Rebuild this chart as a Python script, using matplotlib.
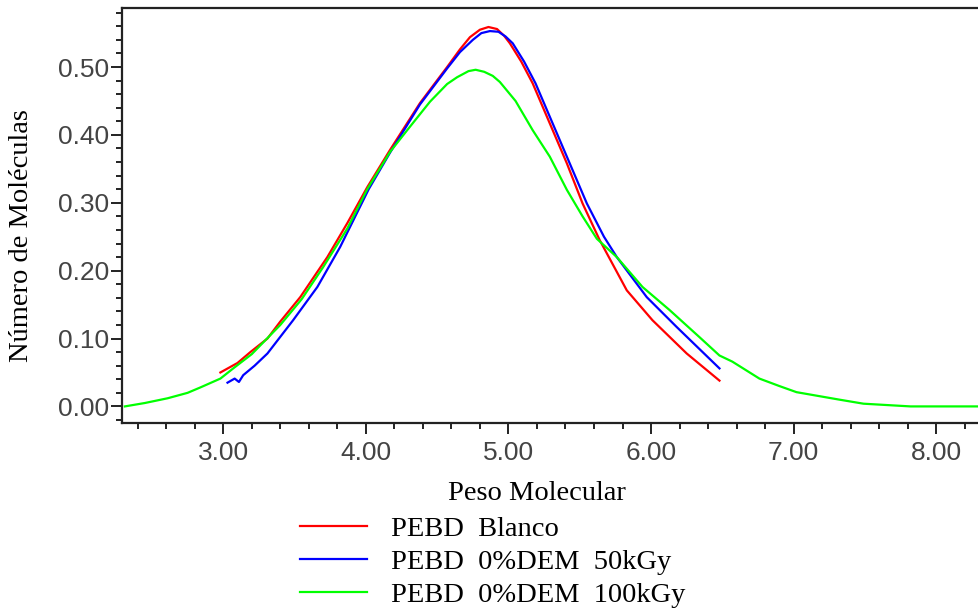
"""
Distribucion de peso molecular - PEBD
"""

import matplotlib

matplotlib.use("Agg")
import matplotlib.pyplot as plt
from matplotlib.ticker import FormatStrFormatter, MultipleLocator

# PEBD Blanco
blanco_x = [2.98, 3.10, 3.19, 3.31, 3.40, 3.54, 3.73, 3.87, 4.01, 4.17, 4.38,
            4.57, 4.66, 4.73, 4.80, 4.86, 4.92, 4.97, 5.01, 5.09, 5.17, 5.29,
            5.41, 5.52, 5.64, 5.83, 6.01, 6.25, 6.48]
blanco_y = [0.050, 0.064, 0.080, 0.100, 0.125, 0.161, 0.220, 0.270, 0.323, 0.378,
            0.447, 0.500, 0.526, 0.544, 0.555, 0.559, 0.556, 0.546, 0.535, 0.508,
            0.476, 0.417, 0.358, 0.299, 0.245, 0.171, 0.127, 0.078, 0.038]

# PEBD 0%DEM 50kGy
dem50_x = [3.03, 3.08, 3.11, 3.14, 3.22, 3.31, 3.49, 3.66, 3.82, 4.02, 4.17,
           4.38, 4.57, 4.66, 4.75, 4.81, 4.87, 4.93, 4.98, 5.03, 5.11, 5.19,
           5.31, 5.43, 5.55, 5.67, 5.76, 5.97, 6.18, 6.48]
dem50_y = [0.035, 0.041, 0.036, 0.046, 0.060, 0.078, 0.127, 0.176, 0.235, 0.320,
           0.374, 0.445, 0.498, 0.522, 0.540, 0.550, 0.553, 0.552, 0.545, 0.535,
           0.508, 0.476, 0.417, 0.358, 0.299, 0.250, 0.220, 0.161, 0.117, 0.056]

# PEBD 0%DEM 100kGy
dem100_x = [2.31, 2.45, 2.61, 2.75, 2.84, 2.98, 3.07, 3.20, 3.40, 3.55, 3.70,
            3.87, 4.01, 4.17, 4.29, 4.45, 4.57, 4.64, 4.72, 4.77, 4.83, 4.89,
            4.94, 5.05, 5.17, 5.29, 5.41, 5.52, 5.62, 5.76, 5.94, 6.13, 6.34,
            6.48, 6.57, 6.76, 6.90, 7.02, 7.32, 7.49, 7.82, 8.30]
dem100_y = [0.000, 0.005, 0.012, 0.020, 0.028, 0.041, 0.056, 0.077, 0.120, 0.158,
            0.205, 0.262, 0.320, 0.375, 0.407, 0.449, 0.475, 0.485, 0.494, 0.496,
            0.493, 0.487, 0.478, 0.450, 0.407, 0.368, 0.319, 0.280, 0.247, 0.220,
            0.176, 0.142, 0.102, 0.075, 0.066, 0.041, 0.030, 0.021, 0.010, 0.004,
            0.000, 0.000]

labels = ["PEBD  Blanco", "PEBD  0%DEM  50kGy", "PEBD  0%DEM  100kGy"]
colors = ["#ff0000", "#0000ff", "#00ff00"]

W, H = 979, 616
fig = plt.figure(figsize=(W / 100, H / 100), dpi=100)
ax = fig.add_axes([122 / W, 1 - 422.7 / H, (W - 122) / W, (422.7 - 8) / H])

series = [(blanco_x, blanco_y), (dem50_x, dem50_y), (dem100_x, dem100_y)]
handles = []
for (xs, ys), lab, col in zip(series, labels, colors):
    (ln,) = ax.plot(xs, ys, color=col, linewidth=1.6, label=lab)
    handles.append(ln)

ax.set_xlim(2.29, 8.30)
ax.set_ylim(-0.024, 0.587)

ax.spines["right"].set_visible(False)
for side in ["left", "bottom", "top"]:
    ax.spines[side].set_linewidth(1.6)
    ax.spines[side].set_color("#222222")

ax.xaxis.set_major_locator(MultipleLocator(1.0))
ax.xaxis.set_minor_locator(MultipleLocator(0.2))
ax.yaxis.set_major_locator(MultipleLocator(0.1))
ax.yaxis.set_minor_locator(MultipleLocator(0.02))
ax.xaxis.set_major_formatter(FormatStrFormatter("%.2f"))
ax.yaxis.set_major_formatter(FormatStrFormatter("%.2f"))

ax.tick_params(axis="both", which="major", direction="out", length=8, width=1.4,
               color="#222222", labelcolor="#444444", labelsize=19)
ax.tick_params(axis="both", which="minor", direction="out", length=4.5, width=1.4,
               color="#222222")
ax.tick_params(axis="y", which="major", pad=1.5)
ax.tick_params(axis="x", which="major", pad=5)
for lab in ax.get_xticklabels() + ax.get_yticklabels():
    lab.set_family("Liberation Sans")

label_font = {"family": "Liberation Serif", "size": 20.5, "color": "black"}
ax.set_xlabel("Peso Molecular", fontdict=label_font)
ax.xaxis.set_label_coords((537 - 122) / (W - 122), (422.7 - 481) / 414.7)
ax.set_ylabel("Número de Moléculas", fontdict=label_font)
ax.yaxis.set_label_coords((34 - 122) / (W - 122), (422.7 - 236) / 414.7)

fig.legend(handles=handles, labels=labels, loc="upper left",
           bbox_to_anchor=(300 / W, 1 - 516 / H), frameon=False,
           prop={"family": "Liberation Serif", "size": 20.5},
           handlelength=2.35, handletextpad=0.85, labelspacing=0.25,
           borderpad=0, borderaxespad=0)

fig.savefig("out.png", dpi=100)
